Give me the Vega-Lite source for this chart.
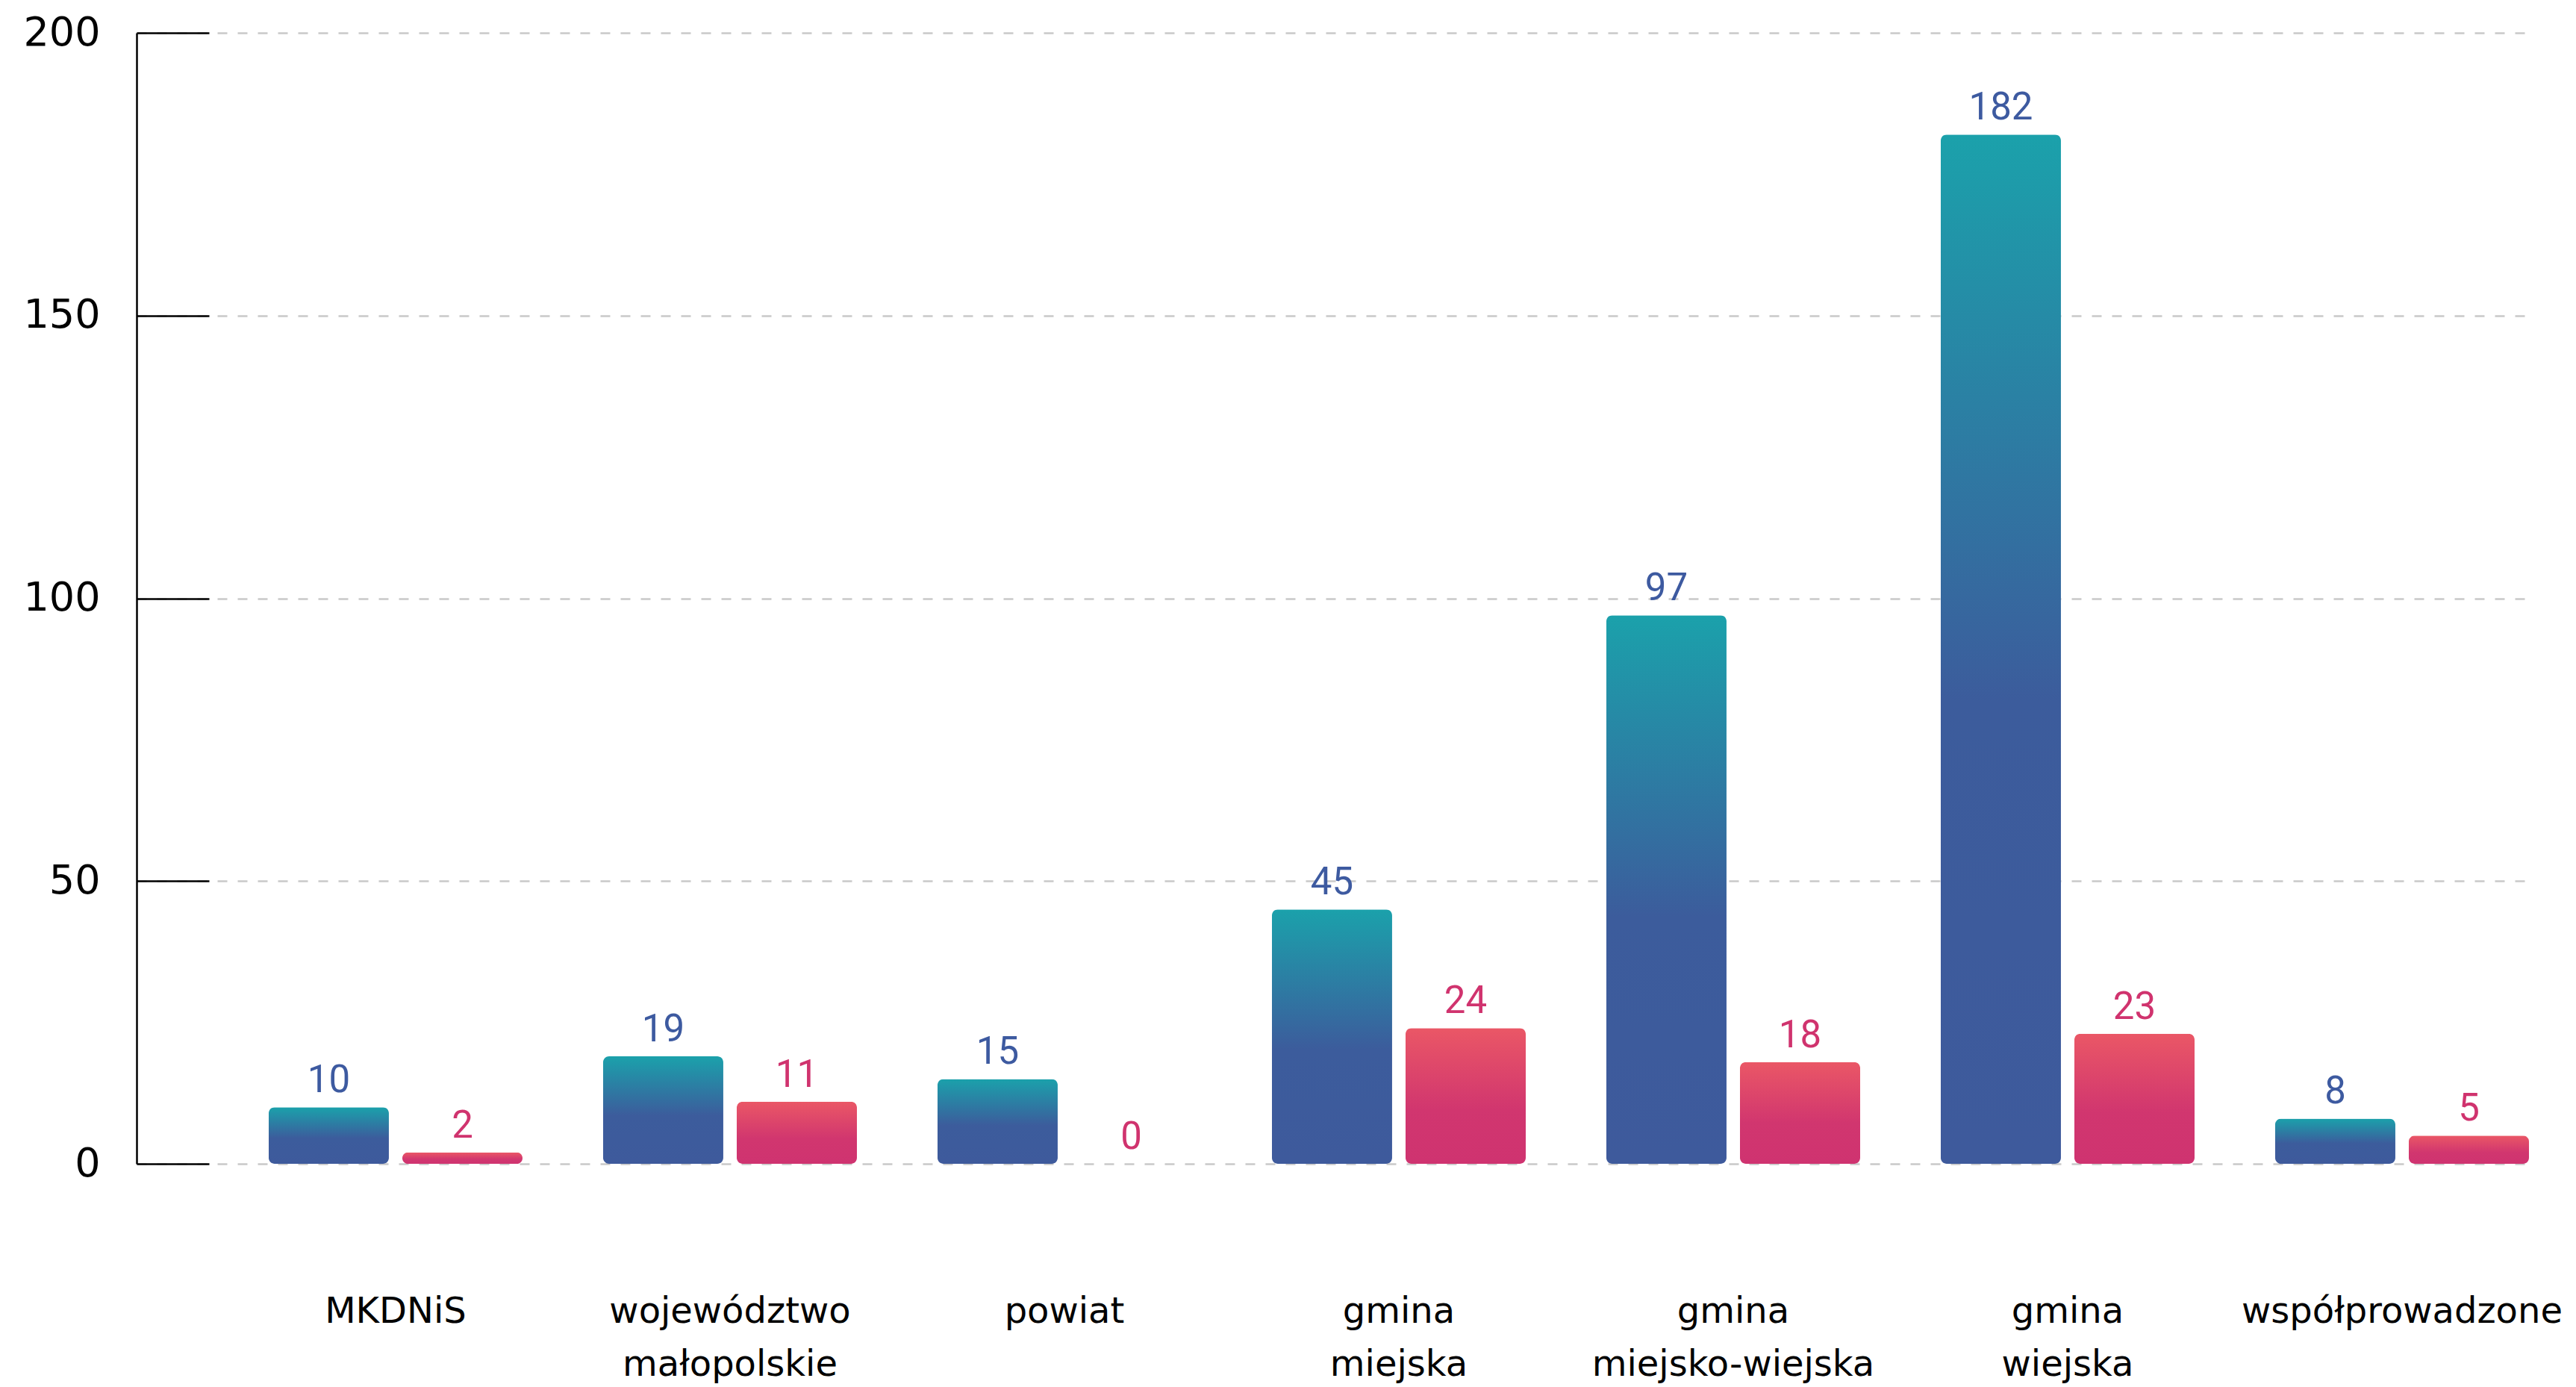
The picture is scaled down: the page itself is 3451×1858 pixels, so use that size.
{
  "$schema": "https://vega.github.io/schema/vega-lite/v6.json",
  "width": 3205,
  "height": 1515,
  "autosize": {"type": "none"},
  "padding": {"left": 183, "top": 44, "right": 63, "bottom": 299},
  "background": "white",
  "config": {"view": {"stroke": null}},
  "data": {
    "values": [
      {"kategoria": "MKDNiS", "seria": "seria 1", "wartosc": 10},
      {"kategoria": "MKDNiS", "seria": "seria 2", "wartosc": 2},
      {"kategoria": "województwo małopolskie", "seria": "seria 1", "wartosc": 19},
      {"kategoria": "województwo małopolskie", "seria": "seria 2", "wartosc": 11},
      {"kategoria": "powiat", "seria": "seria 1", "wartosc": 15},
      {"kategoria": "powiat", "seria": "seria 2", "wartosc": 0},
      {"kategoria": "gmina miejska", "seria": "seria 1", "wartosc": 45},
      {"kategoria": "gmina miejska", "seria": "seria 2", "wartosc": 24},
      {"kategoria": "gmina miejsko-wiejska", "seria": "seria 1", "wartosc": 97},
      {"kategoria": "gmina miejsko-wiejska", "seria": "seria 2", "wartosc": 18},
      {"kategoria": "gmina wiejska", "seria": "seria 1", "wartosc": 182},
      {"kategoria": "gmina wiejska", "seria": "seria 2", "wartosc": 23},
      {"kategoria": "współprowadzone", "seria": "seria 1", "wartosc": 8},
      {"kategoria": "współprowadzone", "seria": "seria 2", "wartosc": 5}
    ]
  },
  "encoding": {
    "x": {
      "field": "kategoria",
      "type": "nominal",
      "sort": null,
      "scale": {"paddingInner": 0.241, "paddingOuter": 0.1975, "align": 1},
      "axis": {
        "title": null,
        "labelAngle": 0,
        "domain": false,
        "ticks": false,
        "grid": false,
        "labelPadding": 174,
        "labelFont": "DejaVu Sans",
        "labelFontSize": 48,
        "labelColor": "#000000",
        "labelLineHeight": 71,
        "labelLimit": 0,
        "labelExpr": "split(datum.label, ' ')"
      }
    },
    "xOffset": {
      "field": "seria",
      "type": "nominal",
      "sort": null,
      "scale": {"paddingInner": 0.1006, "paddingOuter": 0}
    },
    "y": {
      "field": "wartosc",
      "type": "quantitative",
      "scale": {"domain": [0, 200], "nice": false},
      "axis": {
        "title": null,
        "values": [0, 50, 100, 150, 200],
        "domainColor": "#000000",
        "domainWidth": 2.5,
        "tickColor": "#000000",
        "tickWidth": 2.5,
        "tickSize": -97,
        "labelPadding": 146,
        "labelFont": "DejaVu Sans",
        "labelFontSize": 54,
        "labelColor": "#000000",
        "grid": true,
        "gridColor": "#c9c9c9",
        "gridDash": [13, 14],
        "gridWidth": 2.5
      }
    }
  },
  "layer": [
    {
      "transform": [{"filter": "datum.seria === 'seria 1'"}],
      "mark": {
        "type": "bar",
        "cornerRadius": 8,
        "fill": {
          "gradient": "linear",
          "x1": 0, "y1": 0, "x2": 0, "y2": 1,
          "stops": [
            {"offset": 0, "color": "#1ba1ab"},
            {"offset": 0.55, "color": "#3c5c9c"},
            {"offset": 1, "color": "#3e5a9c"}
          ]
        }
      }
    },
    {
      "transform": [{"filter": "datum.seria === 'seria 2'"}],
      "mark": {
        "type": "bar",
        "cornerRadius": 8,
        "fill": {
          "gradient": "linear",
          "x1": 0, "y1": 0, "x2": 0, "y2": 1,
          "stops": [
            {"offset": 0, "color": "#ea5766"},
            {"offset": 0.6, "color": "#d1366f"},
            {"offset": 1, "color": "#cf3370"}
          ]
        }
      }
    },
    {
      "mark": {
        "type": "text",
        "font": "Roboto",
        "fontSize": 51,
        "baseline": "alphabetic",
        "align": "center",
        "dy": -20
      },
      "encoding": {
        "text": {"field": "wartosc", "type": "quantitative"},
        "color": {
          "field": "seria",
          "type": "nominal",
          "scale": {"domain": ["seria 1", "seria 2"], "range": ["#3d5aa0", "#d0336e"]},
          "legend": null
        }
      }
    }
  ]
}
